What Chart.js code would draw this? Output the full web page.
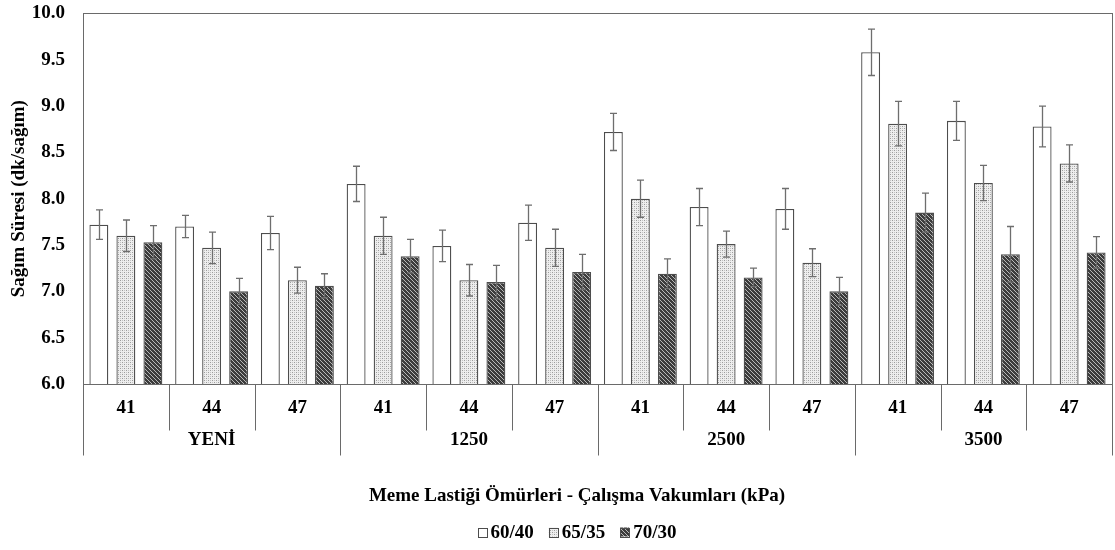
<!DOCTYPE html>
<html>
<head>
<meta charset="utf-8">
<script src="https://cdn.jsdelivr.net/npm/chart.js@4.4.1/dist/chart.umd.min.js"></script>
<style>
  body { margin: 0; background: #fff; }
</style>
</head>
<body>
<canvas id="my-chart" width="1115" height="550"></canvas>
<script>
'use strict';

// ******* DATA *********
let lifeGroups = ['YENİ', '1250', '2500', '3500'];
let vacuums = ['41', '44', '47'];
let seriesNames = ['60/40', '65/35', '70/30'];
let yTicks = [6.0, 6.5, 7.0, 7.5, 8.0, 8.5, 9.0, 9.5, 10.0];

// mean values, in order YENİ 41/44/47, 1250 41/44/47, 2500 ..., 3500 ...
let time6040 = [7.72, 7.70, 7.63, 8.16, 7.49, 7.74, 8.72, 7.91, 7.89, 9.58, 8.84, 8.78];
let time6535 = [7.60, 7.47, 7.12, 7.60, 7.12, 7.47, 8.00, 7.51, 7.31, 8.81, 8.17, 8.38];
let time7030 = [7.53, 7.00, 7.06, 7.38, 7.10, 7.21, 7.19, 7.15, 7.00, 7.85, 7.40, 7.42];

// standard error (+/-)
let err6040 = [0.16, 0.12, 0.18, 0.19, 0.17, 0.19, 0.20, 0.20, 0.22, 0.25, 0.21, 0.22];
let err6535 = [0.17, 0.17, 0.14, 0.20, 0.17, 0.20, 0.20, 0.14, 0.15, 0.24, 0.19, 0.20];
let err7030 = [0.18, 0.14, 0.13, 0.18, 0.18, 0.19, 0.16, 0.10, 0.15, 0.21, 0.30, 0.17];

// ******* FONTS / COLORS *******
let serif = '"Liberation Serif", "Times New Roman", serif';
let axisColor = '#6a6a6a';
let fontSize = 19;

// ******* PATTERNS *******
function makeTile(w, h, paint) {
  let c = document.createElement('canvas');
  c.width = w;
  c.height = h;
  let g = c.getContext('2d');
  paint(g);
  return g.createPattern(c, 'repeat');
}

let whiteFill = '#ffffff';

let dotFill = makeTile(4, 4, function (g) {
  g.fillStyle = '#eeeeee';
  g.fillRect(0, 0, 4, 4);
  g.fillStyle = '#9c9c9c';
  g.fillRect(0, 0, 1, 1);
  g.fillRect(2, 2, 1, 1);
  g.fillStyle = '#c4c4c4';
  g.fillRect(2, 0, 1, 1);
  g.fillRect(0, 2, 1, 1);
});

let hatchFill = makeTile(4, 4, function (g) {
  g.fillStyle = '#3c3c3c';
  g.fillRect(0, 0, 4, 4);
  g.fillStyle = '#b8b8b8';
  for (let i = 0; i < 4; i++) {
    g.fillRect(i, i, 1, 1);
  }
});

// ******* LABELS *******
let labels = [];
for (let i = 0; i < lifeGroups.length; i++) {
  for (let j = 0; j < vacuums.length; j++) {
    labels.push(vacuums[j]);
  }
}

// ******* PLUGINS *******
let errorBars = {
  id: 'errorBars',
  afterDatasetsDraw(chart) {
    let ctx = chart.ctx;
    let yScale = chart.scales.y;
    ctx.save();
    ctx.strokeStyle = '#6e6e6e';
    ctx.lineWidth = 1.3;
    chart.data.datasets.forEach(function (ds, i) {
      let meta = chart.getDatasetMeta(i);
      meta.data.forEach(function (bar, j) {
        let x = Math.round(bar.x) + 0.5;
        let hi = yScale.getPixelForValue(ds.data[j] + ds.errors[j]);
        let lo = yScale.getPixelForValue(ds.data[j] - ds.errors[j]);
        ctx.beginPath();
        ctx.moveTo(x, hi);
        ctx.lineTo(x, lo);
        ctx.moveTo(x - 3.5, hi);
        ctx.lineTo(x + 3.5, hi);
        ctx.moveTo(x - 3.5, lo);
        ctx.lineTo(x + 3.5, lo);
        ctx.stroke();
      });
    });
    ctx.restore();
  }
};

let categoryAxis = {
  id: 'categoryAxis',
  afterDraw(chart) {
    let ctx = chart.ctx;
    let area = chart.chartArea;
    let xScale = chart.scales.x;
    let half = (xScale.getPixelForValue(1) - xScale.getPixelForValue(0)) / 2;
    let base = Math.round(area.bottom) + 0.5;

    ctx.save();
    ctx.strokeStyle = axisColor;
    ctx.lineWidth = 1;

    // frame round the plot
    ctx.strokeRect(Math.round(area.left) + 0.5, Math.round(area.top) + 0.5,
      Math.round(area.right - area.left), Math.round(area.bottom - area.top));

    // dividers below the axis
    ctx.beginPath();
    for (let i = 0; i <= labels.length; i++) {
      let x = Math.round(xScale.getPixelForValue(i) - half) + 0.5;
      let len = (i % vacuums.length === 0) ? 71 : 46;
      ctx.moveTo(x, base);
      ctx.lineTo(x, base + len);
    }
    ctx.stroke();

    ctx.fillStyle = '#000';
    ctx.textAlign = 'center';
    ctx.textBaseline = 'middle';
    ctx.font = 'bold ' + fontSize + 'px ' + serif;
    for (let i = 0; i < labels.length; i++) {
      ctx.fillText(labels[i], xScale.getPixelForValue(i), base + 24);
    }
    for (let g = 0; g < lifeGroups.length; g++) {
      let mid = (xScale.getPixelForValue(g * 3) + xScale.getPixelForValue(g * 3 + 2)) / 2;
      ctx.fillText(lifeGroups[g], mid, base + 56);
    }

    ctx.fillText('Meme Lastiği Ömürleri - Çalışma Vakumları (kPa)', 577, 496);

    // legend: small swatch, label, gap
    let box = 9;
    let widths = seriesNames.map(function (s) { return box + 4 + ctx.measureText(s).width; });
    let total = widths.reduce(function (a, b) { return a + b; }, 0) + 15 * (widths.length - 1);
    let x = 577 - total / 2;
    let y = 532;
    ctx.textAlign = 'left';
    chart.data.datasets.forEach(function (ds, i) {
      ctx.fillStyle = ds.backgroundColor;
      ctx.fillRect(x, y - box / 2, box, box);
      ctx.strokeStyle = '#4d4d4d';
      ctx.strokeRect(Math.round(x) + 0.5, Math.round(y - box / 2) + 0.5, box, box);
      ctx.fillStyle = '#000';
      ctx.fillText(ds.label, x + box + 4, y + 1);
      x += widths[i] + 15;
    });
    ctx.restore();
  }
};

// ******* CHART *******
let ctx = document.getElementById('my-chart');

let seriesFills = [whiteFill, dotFill, hatchFill];
let seriesData = [time6040, time6535, time7030];
let seriesErrs = [err6040, err6535, err7030];

let datasets = [];
for (let i = 0; i < seriesNames.length; i++) {
  datasets.push({
    label: seriesNames[i],
    data: seriesData[i],
    errors: seriesErrs[i],
    backgroundColor: seriesFills[i],
    borderColor: '#4d4d4d',
    borderWidth: 1.3,
    categoryPercentage: 0.945,
    barPercentage: 0.7
  });
}

new Chart(ctx, { //eslint-disable-line
  type: 'bar',
  data: {
    labels: labels,
    datasets: datasets
  },
  options: {
    responsive: false,
    animation: false,
    layout: {
      padding: { top: 0, right: 3, left: 0, bottom: 0 }
    },
    scales: {
      x: {
        grid: { display: false },
        border: { display: false },
        ticks: { display: false },
        afterFit(axis) { axis.height = 166; }
      },
      y: {
        min: 6,
        max: 10,
        afterBuildTicks(axis) {
          axis.ticks = yTicks.map(function (v) { return { value: v }; });
        },
        afterFit(axis) { axis.width = 83; },
        grid: { display: false, tickLength: 16 },
        border: { display: false },
        ticks: {
          color: '#000',
          padding: 2,
          font: { family: serif, size: fontSize, weight: 'bold' },
          callback: function (v) { return Number(v).toFixed(1); }
        },
        title: {
          display: true,
          text: 'Sağım Süresi (dk/sağım)',
          color: '#000',
          padding: { top: 8, bottom: 0 },
          font: { family: serif, size: fontSize, weight: 'bold' }
        }
      }
    },
    plugins: {
      legend: { display: false },
      tooltip: { enabled: false }
    }
  },
  plugins: [errorBars, categoryAxis]
});
</script>
</body>
</html>
